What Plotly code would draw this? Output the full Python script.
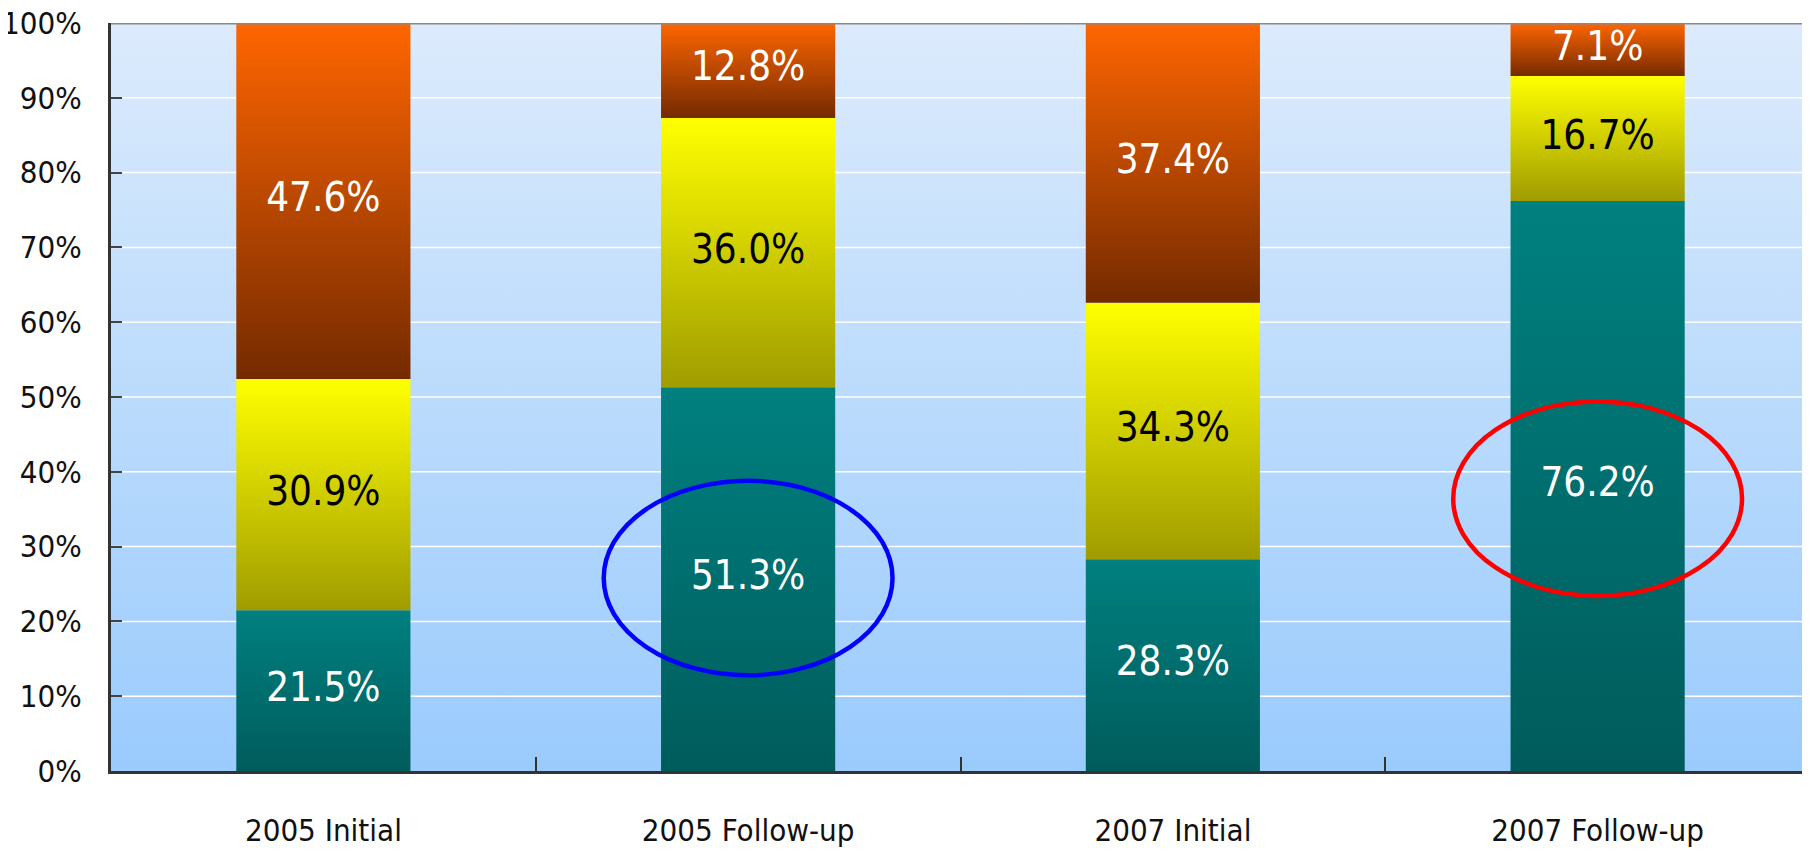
import plotly.graph_objects as go

categories = ["2005 Initial", "2005 Follow-up", "2007 Initial", "2007 Follow-up"]
teal_vals = [21.5, 51.3, 28.3, 76.2]
yellow_vals = [30.9, 36.0, 34.3, 16.7]
orange_vals = [47.6, 12.8, 37.4, 7.1]
y_ticks = [0, 10, 20, 30, 40, 50, 60, 70, 80, 90, 100]
y_tick_text = [f"{t}%" for t in y_ticks]

series = [
    ("Teal", teal_vals, "#005c5c", "#008080", "white"),
    ("Yellow", yellow_vals, "#a09c00", "#ffff00", "black"),
    ("Orange", orange_vals, "#742a00", "#ff6600", "white"),
]

FONT = "DejaVu Sans Condensed, Liberation Sans Narrow, sans-serif"
BAR_HALF = 0.205

fig = go.Figure()

fig.add_trace(go.Scatter(
    x=[-0.5, 3.5, 3.5, -0.5, -0.5], y=[0, 0, 100, 100, 0],
    mode="lines", line=dict(width=0), fill="toself",
    fillgradient=dict(type="vertical", colorscale=[[0, "#9acbfd"], [1, "#dcebfc"]]),
    hoverinfo="skip", showlegend=False))

gx, gy = [], []
for t in y_ticks[1:-1]:
    gx += [-0.5, 3.5, None]
    gy += [t, t, None]
fig.add_trace(go.Scatter(x=gx, y=gy, mode="lines",
                         line=dict(color="white", width=1.5),
                         hoverinfo="skip", showlegend=False))

base = [0.0] * len(categories)
label_traces = []
for name, vals, c_bot, c_top, tcol in series:
    mids = []
    for i, v in enumerate(vals):
        b = base[i]
        t = b + v
        fig.add_trace(go.Scatter(
            x=[i - BAR_HALF, i + BAR_HALF, i + BAR_HALF, i - BAR_HALF, i - BAR_HALF],
            y=[b, b, t, t, b],
            mode="lines", line=dict(width=0), fill="toself",
            fillgradient=dict(type="vertical", colorscale=[[0, c_bot], [1, c_top]]),
            name=name, hoverinfo="skip", showlegend=False))
        mids.append(b + v / 2)
        base[i] = t
    label_traces.append(go.Scatter(
        x=list(range(len(categories))), y=mids, mode="text",
        text=[f"{v:.1f}%" for v in vals],
        textfont=dict(family=FONT, size=40, color=tcol),
        hoverinfo="skip", showlegend=False))

for tr in label_traces:
    fig.add_trace(tr)

fig.add_shape(type="circle", xref="x", yref="y", x0=1 - 0.34, x1=1 + 0.34, y0=12.8, y1=38.8,
              line=dict(color="#0000ff", width=4.5))
fig.add_shape(type="circle", xref="x", yref="y", x0=3 - 0.34, x1=3 + 0.34, y0=23.4, y1=49.4,
              line=dict(color="#ff0000", width=4.5))
fig.add_shape(type="line", xref="paper", yref="y", x0=0, x1=1, y0=100, y1=100,
              line=dict(color="#8a8a8a", width=3))

fig.update_layout(
    width=1810, height=855,
    margin=dict(l=103, r=8, t=15, b=92, autoexpand=False),
    paper_bgcolor="white", plot_bgcolor="rgba(0,0,0,0)",
    showlegend=False,
    font=dict(family=FONT, color="#111111"),
)
fig.update_xaxes(
    range=[-0.5, 3.5], tickvals=list(range(len(categories))), ticktext=categories,
    ticks="", showgrid=False, zeroline=False, automargin=False,
    showline=True, linecolor="#333333", linewidth=3,
    tickfont=dict(family=FONT, size=31, color="#111111"),
    ticklabelstandoff=30,
    minor=dict(tickvals=[0.5, 1.5, 2.5], ticks="inside", ticklen=14, tickcolor="#333333", tickwidth=1.5, showgrid=False),
    layer="above traces",
)
fig.update_yaxes(
    range=[0, 100], tickmode="array", tickvals=y_ticks, ticktext=y_tick_text,
    ticks="inside", ticklen=11, tickcolor="#444444", tickwidth=2,
    showgrid=False, zeroline=False, automargin=False,
    showline=True, linecolor="#333333", linewidth=3,
    tickfont=dict(family=FONT, size=31, color="#111111"),
    ticklabelstandoff=20, ticklabeloverflow="allow",
    layer="above traces",
)

fig.write_html("out.html")
